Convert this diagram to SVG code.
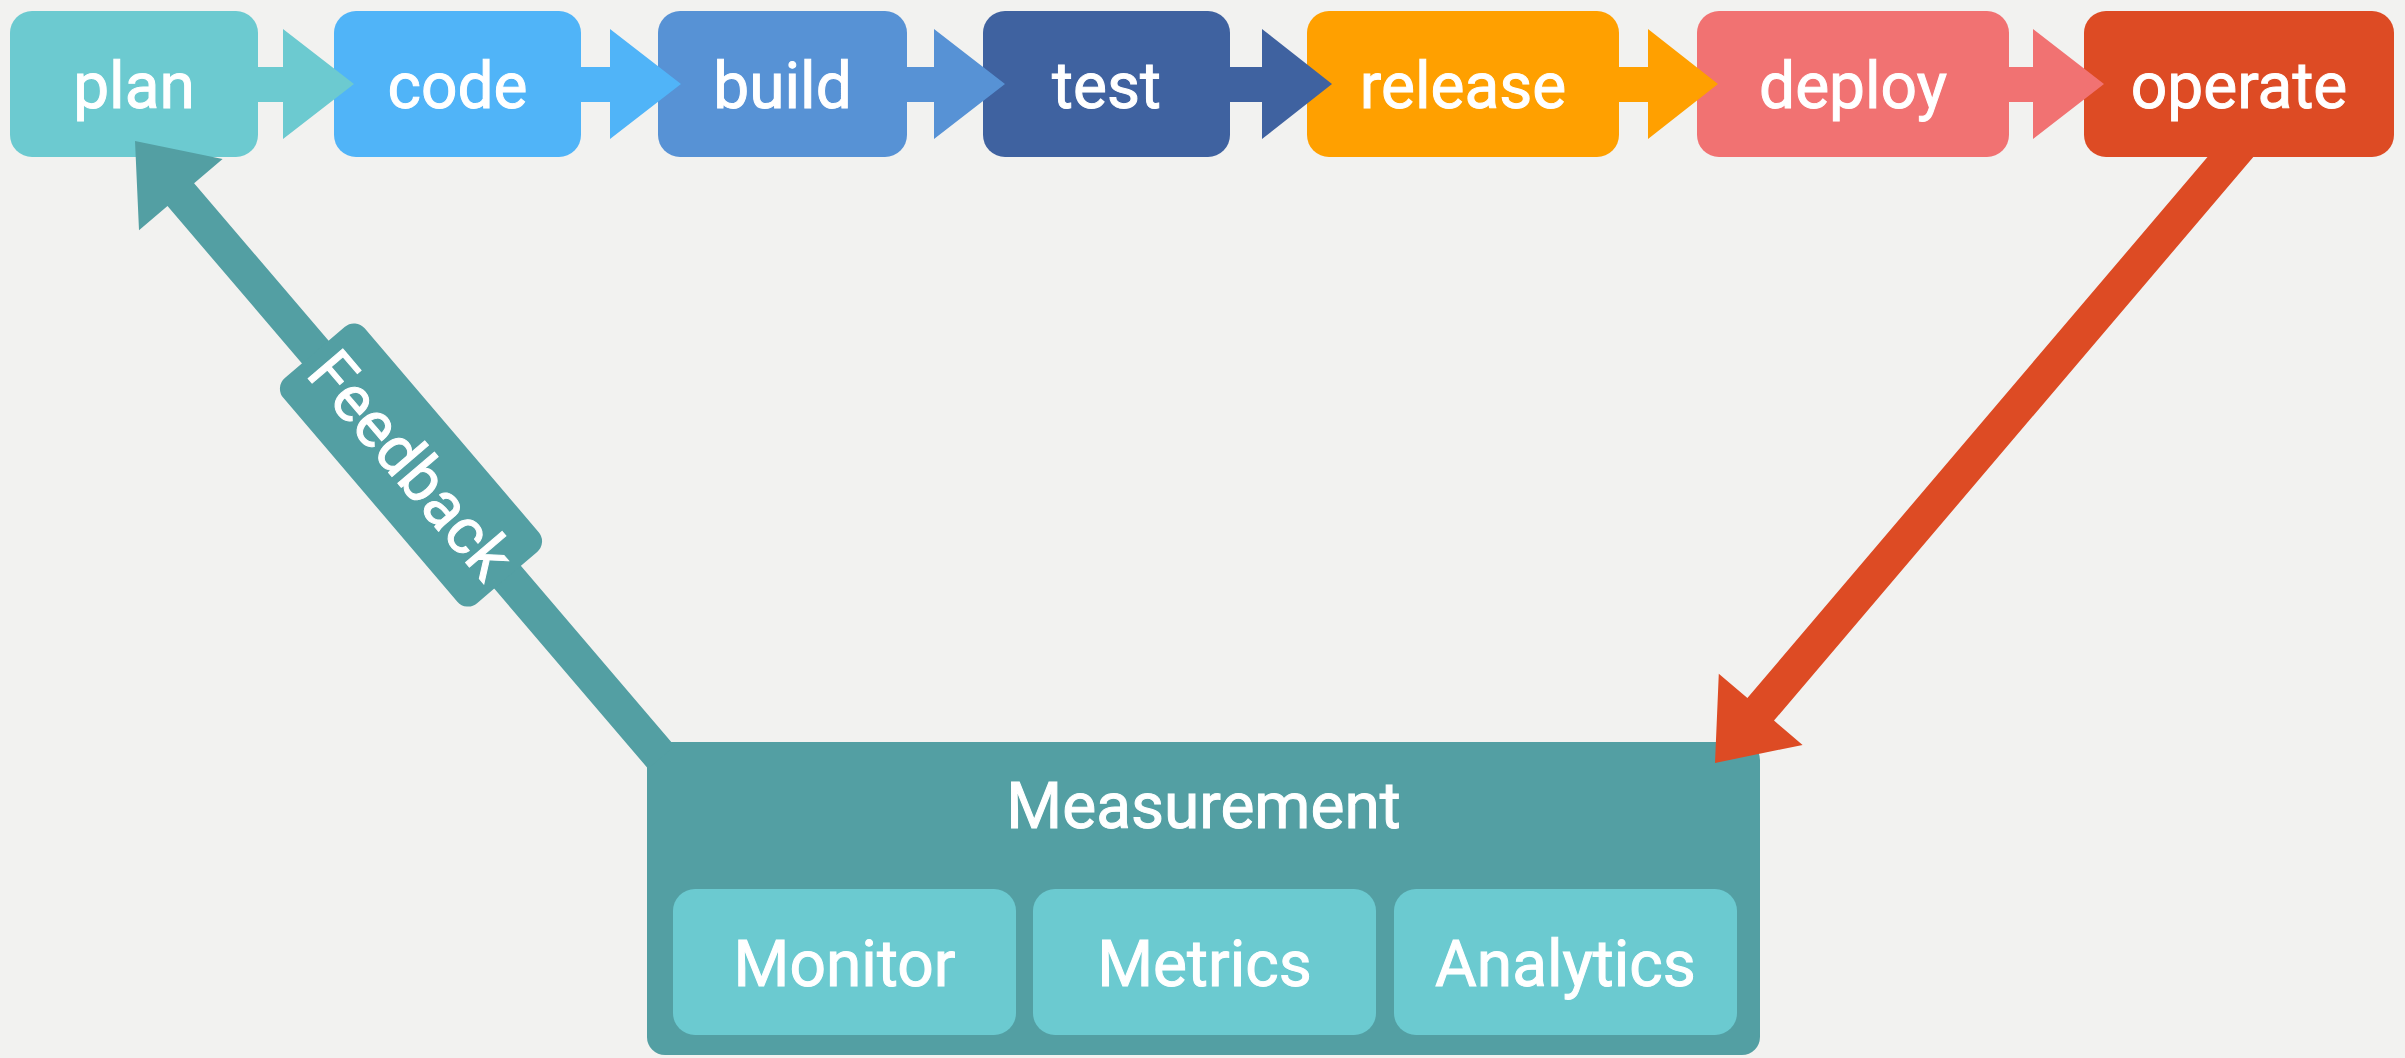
<svg xmlns="http://www.w3.org/2000/svg" width="2405" height="1058" viewBox="0 0 2405 1058">
<style>
text{font-family:Roboto,"Liberation Sans",sans-serif;font-weight:400;fill:#FFFFFF;stroke:#FFFFFF;stroke-width:1px;text-anchor:middle;font-size:64px}
.plan{fill:#6CCAD0}.code{fill:#50B4F8}.build{fill:#5792D5}.test{fill:#3F62A0}
.release{fill:#FFA000}.deploy{fill:#F17272}.operate{fill:#DD4B24}.teal{fill:#539FA3}.inner{fill:#6BCAD0}
</style>
<rect x="0" y="0" width="2405" height="1058" fill="#F2F2F0"/>
<g id="nodes">
<g id="plan"><rect class="plan" x="10" y="11" width="248" height="146" rx="22"/><text x="134" y="108">plan</text></g>
<g id="code"><rect class="code" x="334" y="11" width="247" height="146" rx="22"/><text x="457.5" y="108">code</text></g>
<g id="build"><rect class="build" x="658" y="11" width="249" height="146" rx="22"/><text x="782.5" y="108">build</text></g>
<g id="test"><rect class="test" x="983" y="11" width="247" height="146" rx="22"/><text x="1106.5" y="108">test</text></g>
<g id="release"><rect class="release" x="1307" y="11" width="312" height="146" rx="22"/><text x="1463" y="108">release</text></g>
<g id="deploy"><rect class="deploy" x="1697" y="11" width="312" height="146" rx="22"/><text x="1853" y="108">deploy</text></g>
<g id="operate"><rect class="operate" x="2084" y="11" width="310" height="146" rx="22"/><text x="2239" y="108">operate</text></g>
<g id="measurement">
<rect class="teal" x="647" y="742" width="1113" height="313" rx="18"/>
<text x="1203.5" y="828">Measurement</text>
<g id="monitor"><rect class="inner" x="673" y="889" width="343" height="146" rx="22"/><text x="844.5" y="986">Monitor</text></g>
<g id="metrics"><rect class="inner" x="1033" y="889" width="343" height="146" rx="22"/><text x="1204.5" y="986">Metrics</text></g>
<g id="analytics"><rect class="inner" x="1394" y="889" width="343" height="146" rx="22"/><text x="1565.5" y="986">Analytics</text></g>
</g>
</g>
<g id="connectors">
<path class="plan" d="M254,67 H283 V29 L354,84 L283,139 V102 H254 Z"/>
<path class="code" d="M577,67 H610 V29 L681,84 L610,139 V102 H577 Z"/>
<path class="build" d="M903,67 H934 V29 L1005,84 L934,139 V102 H903 Z"/>
<path class="test" d="M1226,67 H1262 V29 L1332,84 L1262,139 V102 H1226 Z"/>
<path class="release" d="M1615,67 H1648 V29 L1718,84 L1648,139 V102 H1615 Z"/>
<path class="deploy" d="M2005,67 H2033 V29 L2104,84 L2033,139 V102 H2005 Z"/>
<path class="operate" d="M1715,763 L1802.6,744.9 L1774,720.6 L2253.3,157 L2207.5,157 L1747.4,698 L1718.8,673.7 Z"/>
<g id="feedback">
<path class="teal" d="M135,141 L222.6,158.9 L194.1,183.2 L674.7,745.9 L648.1,768.7 L167.5,206 L139,230.3 Z"/>
<g transform="translate(411,465) rotate(49.5)">
<rect class="teal" x="-148" y="-53.5" width="296" height="107" rx="14"/>
<text x="0" y="22" font-size="62">Feedback</text>
</g>
</g>
</g>
</svg>
